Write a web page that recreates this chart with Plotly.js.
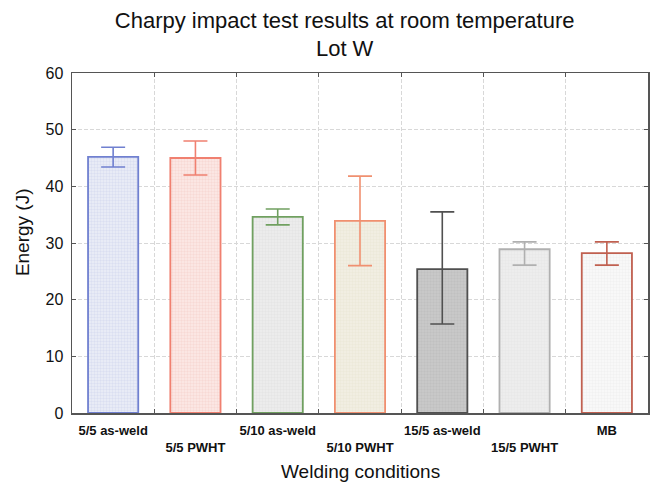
<!DOCTYPE html>
<html>
<head>
<meta charset="utf-8">
<script src="https://cdn.plot.ly/plotly-3.0.1.min.js"></script>
<style>html,body{margin:0;padding:0;background:#fff;}#chart{width:654px;height:485px;}</style>
</head>
<body>
<div id="chart"></div>
<script>
const categories = ["5/5 as-weld", "5/5 PWHT", "5/10 as-weld", "5/10 PWHT", "15/5 as-weld", "15/5 PWHT", "MB"];
const energy = [45.2, 45.0, 34.6, 33.9, 25.4, 28.9, 28.2];
const errUpper = [46.9, 48.0, 36.0, 41.8, 35.5, 30.2, 30.2];
const errLower = [43.4, 42.0, 33.2, 26.0, 15.7, 26.1, 26.1];
const yTicks = [0, 10, 20, 30, 40, 50, 60];

const edgeColors = ["#7080d0", "#f08070", "#70a060", "#f09070", "#505050", "#b0b0b0", "#c06050"];
const fillColors = ["#e8ebf6", "#fbe6e3", "#ececec", "#f1eee2", "#c8c8c8", "#ededed", "#f8f8f8"];
const patColors = ["#c4cbe8", "#f4c8c0", "#dcdcdc", "#e4dfcc", "#b4b4b4", "#e0e0e0", "#e6e6e6"];

const xIdx = categories.map((c, i) => i);
const tickText = categories.map((c, i) => i % 2 === 0 ? c : "<br>" + c);

const traces = categories.map((c, i) => ({
  type: "bar",
  x: [i],
  y: [energy[i]],
  width: 0.61,
  marker: {
    color: fillColors[i],
    line: {color: edgeColors[i], width: 1.8},
    pattern: {shape: "+", size: 3, solidity: 0.15, fgcolor: patColors[i], bgcolor: fillColors[i]}
  },
  error_y: {
    type: "data", symmetric: false,
    array: [errUpper[i] - energy[i]],
    arrayminus: [energy[i] - errLower[i]],
    color: edgeColors[i], thickness: 1.6, width: 12
  },
  showlegend: false,
  hoverinfo: "skip"
}));

traces.push({type: "scatter", x: [-0.5, 6.5], y: [0, 0], xaxis: "x2", mode: "none", showlegend: false, hoverinfo: "skip"});

const layout = {
  width: 654, height: 485,
  margin: {l: 72, r: 6, t: 73, b: 72},
  paper_bgcolor: "#fff", plot_bgcolor: "#fff",
  font: {family: "Liberation Sans, Arial, sans-serif", color: "#111"},
  title: {text: "Charpy impact test results at room temperature<br>Lot W", x: 0.527, xanchor: "center", y: 0.943, yanchor: "middle", font: {size: 22, color: "#111"}},
  xaxis: {
    range: [-0.5, 6.5], tickvals: xIdx, ticktext: tickText,
    tickfont: {size: 13, weight: "bold", color: "#111"},
    ticklabelstandoff: 5,
    showgrid: false, ticks: "", zeroline: false,
    showline: true, linecolor: "#555", linewidth: 1.5, mirror: true
  },
  xaxis2: {
    overlaying: "x", range: [-0.5, 6.5], tickvals: [0.5, 1.5, 2.5, 3.5, 4.5, 5.5],
    showticklabels: false, ticks: "inside", ticklen: 4, tickcolor: "#555", mirror: "ticks",
    showgrid: true, gridcolor: "#d8d8d8", griddash: "4px,2px", gridwidth: 1, zeroline: false, showline: false
  },
  yaxis: {
    range: [0, 60], tickvals: yTicks, ticks: "inside", ticklen: 4, tickcolor: "#555", mirror: "ticks",
    tickfont: {size: 16, color: "#111"},
    ticklabelstandoff: 4,
    showgrid: true, gridcolor: "#d8d8d8", griddash: "4px,2px", zeroline: false,
    showline: true, linecolor: "#555", linewidth: 1.5
  },
  annotations: [
    {text: "Energy (J)", textangle: -90, xref: "paper", yref: "paper", x: -0.0868, y: 0.532, xanchor: "center", yanchor: "middle", showarrow: false, font: {size: 19, color: "#111"}},
    {text: "Welding conditions", xref: "paper", yref: "paper", x: 0.5, y: -0.1706, xanchor: "center", yanchor: "middle", showarrow: false, font: {size: 19, color: "#111"}}
  ],
  bargap: 0.39
};

Plotly.newPlot("chart", traces, layout, {displayModeBar: false, staticPlot: true});
</script>
</body>
</html>
